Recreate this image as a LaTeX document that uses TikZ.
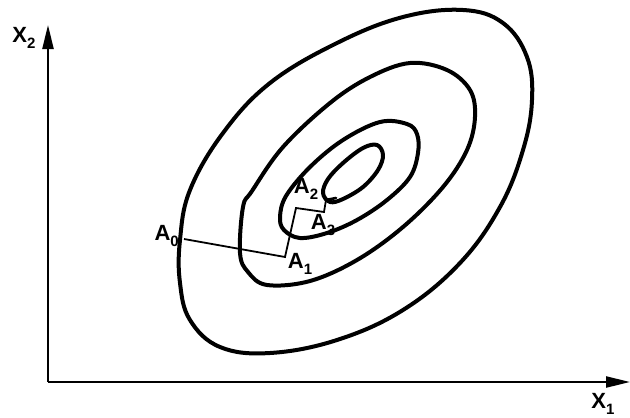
\documentclass[tikz,border=0pt]{standalone}
\usepackage{fontspec}
\setmainfont{Liberation Sans}
\usetikzlibrary{arrows.meta, positioning, calc}
\tikzset{
  axis/.style    = {line width=2.4pt, -{Triangle[length=24pt, width=11pt]}},
  contour/.style = {line width=4pt, line join=round},
  descent/.style = {line width=1.8pt, line join=miter},
  lbl/.style     = {font=\fontsize{22}{26}\selectfont\bfseries, inner sep=0pt},
}
\newcommand{\subl}[2]{#1\raisebox{-0.45ex}{\fontsize{15}{18}\selectfont #2}}

\begin{document}
\begin{tikzpicture}[x=1pt, y=-1pt]
  \useasboundingbox (0,0) rectangle (630,418);
  % axes
  \coordinate (o) at (48,382);
  \coordinate (xend) at (630,382);
  \coordinate (yend) at (48,25);
  \draw[axis] (o) -- (xend);
  \draw[axis] (o) -- (yend);
  \node[lbl] (xlab) at (603,404) {\subl{X}{1}};
  \node[lbl] (ylab) at (24,38) {\subl{X}{2}};
  % level curves
  \draw[contour] plot[smooth cycle, tension=0.65] coordinates {
    (180,240) (190,190) (223,133) (270,83) (337,43) (403,17) (463,10)
    (503,23) (527,57) (532,100) (523,150) (500,207) (460,263) (403,310)
    (337,340) (270,353) (220,347) (190,320) (180,283)};
  \draw[contour] plot[smooth cycle, tension=0.6] coordinates {
    (240,253) (243,207) (252,191) (283,147) (330,103) (370,77) (410,63)
    (447,70) (470,90) (475,117) (467,150) (443,187) (403,227) (357,260)
    (310,281) (267,285) (248,272)};
  \draw[contour] plot[smooth cycle, tension=0.6] coordinates {
    (280,217) (286,196) (310,167) (343,140) (380,122) (407,124) (417,134)
    (418,153) (410,177) (387,200) (357,220) (327,233) (300,238) (284,230)};
  \draw[contour] plot[smooth cycle, tension=0.6] coordinates {
    (323,193) (328,179) (343,163) (363,148) (377,145) (383,155) (378,170)
    (363,187) (343,199) (330,202)};
  % search path
  \coordinate (a0) at (184,239);
  \coordinate (a1) at (285,257);
  \coordinate (a2) at (296,208);
  \coordinate (a3) at (324,212);
  \coordinate (a4) at (326,200);
  \coordinate (a5) at (336,198);
  \draw[descent] (a0) -- (a1) -- (a2) -- (a3) -- (a4);
  \draw[line width=2.6pt, line cap=round] (a4) -- (a5);
  \node[lbl, anchor=east] (l0) at (179,236) {\subl{A}{0}};
  \node[lbl] (l1) at (300,264) {\subl{A}{1}};
  \node[lbl] (l2) at (306,189) {\subl{A}{2}};
  \node[lbl] (l3) at (323,225) {\subl{A}{3}};
\end{tikzpicture}
\end{document}
